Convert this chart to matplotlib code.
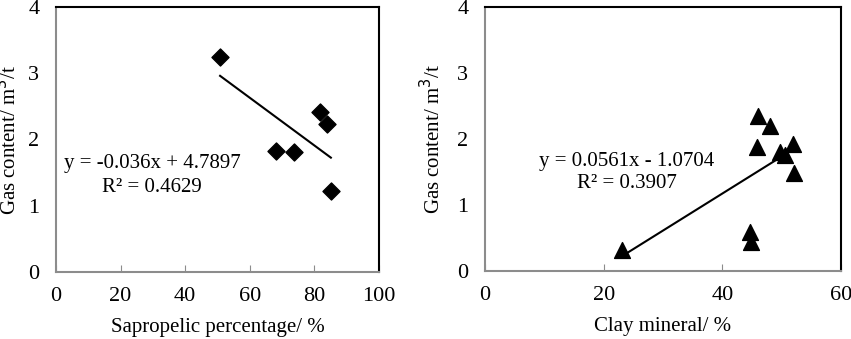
import matplotlib.pyplot as plt

plt.rcParams['font.family'] = ['Liberation Serif', 'DejaVu Serif']

# left panel: sapropelic percentage vs gas content
sap_x = [50.8, 68.0, 73.8, 81.8, 83.9, 85.1]
sap_y = [3.24, 1.83, 1.81, 2.42, 2.23, 1.22]
sap_slope, sap_icpt = -0.036, 4.7897

# right panel: clay mineral vs gas content
clay_x = [23.1, 46.0, 48.1, 45.8, 49.7, 50.5, 51.9, 52.0, 44.7, 44.9]
clay_y = [0.32, 2.35, 2.19, 1.88, 1.80, 1.76, 1.92, 1.49, 0.59, 0.44]
clay_slope, clay_icpt = 0.0561, -1.0704
clay_fit_range = [23.1, 49.7]

gray = "#8c8c8c"
fs_tick = 16
fs = 15

fig = plt.figure(figsize=(8.51, 3.39), dpi=100)
ax1 = fig.add_axes([56 / 851, 1 - 272 / 339, 323 / 851, 265 / 339])
ax2 = fig.add_axes([485 / 851, 1 - 271 / 339, 356 / 851, 264 / 339])


def style(ax, xmax, xstep, ylab_x):
    ax.set_xlim(0, xmax)
    ax.set_ylim(0, 4)
    ax.set_xticks(range(0, xmax + 1, xstep))
    ax.set_yticks([0, 1, 2, 3, 4])
    ax.spines['left'].set_color(gray)
    ax.spines['bottom'].set_color(gray)
    ax.spines['top'].set_color('black')
    ax.spines['right'].set_color('black')
    for s in ax.spines.values():
        s.set_linewidth(1.5)
    ax.tick_params(axis='x', direction='in', length=5, color=gray, pad=11, labelsize=fs_tick)
    ax.tick_params(axis='y', length=0, pad=12, labelsize=fs_tick)
    ax.set_ylabel("Gas content/ m$^3$/t", fontsize=fs)
    ax.yaxis.set_label_coords(ylab_x, 0.5)
    ax.xaxis.set_label_coords(0.5, -0.175)


# left
style(ax1, 100, 20, -0.108)
ax1.scatter(sap_x, sap_y, marker='D', s=75, color='black', zorder=3)
fx = [min(sap_x), max(sap_x)]
ax1.plot(fx, [sap_slope * v + sap_icpt for v in fx], color='black', lw=1.5)
ax1.text(29.7, 1.64, "y = -0.036x + 4.7897", ha='center', va='center', fontsize=fs)
ax1.text(29.7, 1.27, "R² = 0.4629", ha='center', va='center', fontsize=fs)
ax1.set_xlabel("Sapropelic percentage/ %", fontsize=fs)

# right
style(ax2, 60, 20, -0.112)
ax2.scatter(clay_x, clay_y, marker='^', s=130, color='black', zorder=3)
ax2.plot(clay_fit_range, [clay_slope * v + clay_icpt for v in clay_fit_range],
         color='black', lw=1.5)
ax2.text(23.9, 1.66, "y = 0.0561x - 1.0704", ha='center', va='center', fontsize=fs)
ax2.text(23.9, 1.32, "R² = 0.3907", ha='center', va='center', fontsize=fs)
ax2.set_xlabel("Clay mineral/ %", fontsize=fs)

fig.savefig("out.png", dpi=100)
